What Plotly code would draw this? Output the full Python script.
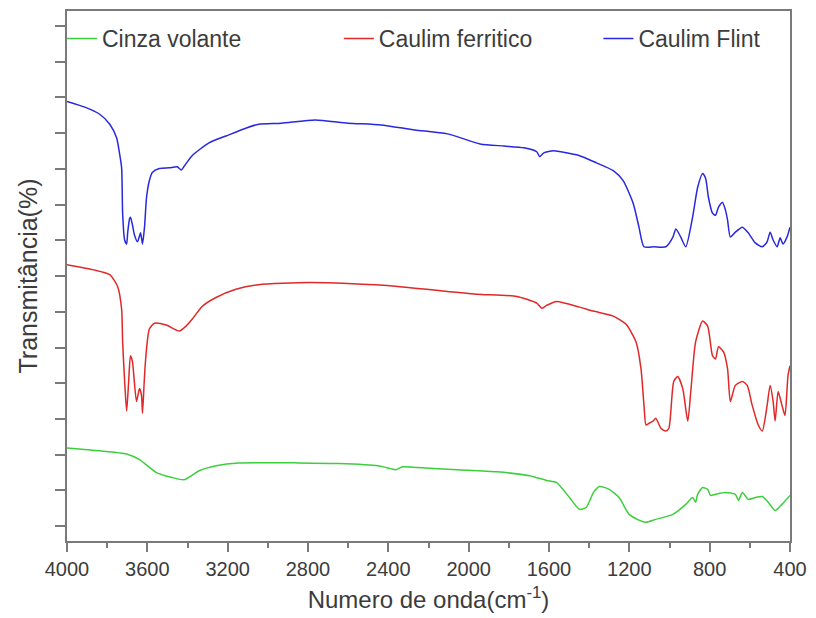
import plotly.graph_objects as go

# Caulim Flint (blue)
flint_wn = [4000, 3911, 3837, 3787, 3753, 3738, 3728, 3723, 3713, 3703, 3698, 3688, 3684, 3674, 3664,
            3649, 3639, 3634, 3629, 3624, 3614, 3604, 3590, 3575, 3540, 3491, 3451, 3431, 3416, 3377,
            3293, 3209, 3110, 3046, 2932, 2764, 2601, 2437, 2269, 2106, 1943, 1824, 1725, 1661, 1646,
            1626, 1577, 1513, 1448, 1364, 1280, 1231, 1181, 1152, 1127, 1077, 1018, 983, 968, 944,
            919, 885, 860, 835, 820, 806, 786, 771, 756, 736, 721, 711, 697, 672, 637,
            608, 573, 538, 514, 499, 484, 464, 449, 435, 415, 400]
flint_t = [128.9, 127.3, 125.3, 122.5, 118.7, 114.2, 110.3, 97.6, 90.1, 89.0, 92.1, 96.2, 96.5, 94.3, 91.5,
           89.6, 91.2, 92.1, 90.7, 89.0, 93.7, 102.0, 106.7, 109.0, 110.1, 110.3, 110.6, 109.7, 110.8, 113.7,
           117.3, 119.2, 121.4, 122.5, 122.8, 123.7, 122.8, 122.3, 120.9, 119.8, 117.0, 116.4, 115.9, 114.8, 113.4,
           114.5, 115.1, 114.5, 113.7, 111.7, 109.5, 106.7, 100.4, 93.7, 88.2, 88.2, 88.2, 90.9, 93.2, 90.9,
           88.2, 96.5, 104.8, 108.7, 107.3, 102.0, 97.6, 97.0, 99.3, 100.6, 98.4, 95.7, 90.9, 92.3, 93.7,
           92.1, 89.3, 88.2, 89.6, 92.3, 90.1, 88.2, 90.7, 89.0, 90.9, 93.7]

# Caulim ferritico (red)
ferr_wn = [4000, 3871, 3787, 3748, 3728, 3723, 3713, 3703, 3693, 3684, 3674, 3654, 3639, 3629, 3624,
           3614, 3604, 3590, 3565, 3506, 3441, 3407, 3377, 3327, 3258, 3159, 3046, 2798, 2601, 2353,
           2106, 1958, 1760, 1661, 1636, 1612, 1562, 1448, 1379, 1280, 1216, 1167, 1142, 1127, 1117,
           1102, 1082, 1068, 1043, 1018, 1003, 979, 959, 934, 909, 894, 870, 835, 810, 786,
           771, 756, 731, 711, 697, 672, 637, 613, 588, 558, 538, 514, 499, 484, 474,
           459, 440, 425, 410, 400]
ferr_t = [83.2, 81.8, 80.4, 77.1, 70.7, 61.6, 50.5, 42.2, 50.5, 57.7, 56.0, 44.9, 48.5, 46.6, 41.6,
          52.1, 59.6, 65.2, 66.8, 66.3, 64.6, 66.0, 67.9, 71.5, 74.0, 76.3, 77.6, 78.2, 77.9, 77.1,
          75.7, 74.9, 74.3, 72.4, 71.0, 71.8, 72.9, 71.3, 70.2, 68.8, 66.5, 61.6, 54.1, 43.8, 38.3,
          38.8, 39.4, 40.2, 37.4, 36.6, 37.4, 50.5, 51.9, 48.5, 39.4, 47.7, 61.6, 67.4, 66.0, 57.7,
          56.8, 60.2, 58.8, 54.1, 44.9, 49.4, 50.5, 49.4, 43.8, 38.3, 36.6, 43.8, 49.4, 44.9, 39.4,
          47.7, 43.8, 41.0, 52.1, 54.9]

# Cinza volante (green)
cinza_wn = [4000, 3837, 3703, 3639, 3555, 3476, 3416, 3342, 3258, 3145, 2848, 2650, 2452, 2388, 2363,
            2329, 2254, 2057, 1859, 1696, 1612, 1562, 1498, 1448, 1414, 1379, 1349, 1300, 1251, 1201,
            1152, 1117, 1068, 983, 919, 885, 870, 860, 835, 810, 796, 771, 721, 672, 657,
            637, 608, 573, 538, 509, 474, 440, 400]
cinza_t = [31.9, 31.1, 30.2, 28.6, 25.0, 23.6, 23.0, 25.5, 26.9, 27.7, 27.7, 27.5, 26.9, 26.1, 25.8,
           26.6, 26.4, 25.8, 25.2, 24.1, 22.8, 22.2, 18.0, 14.7, 15.3, 19.4, 21.1, 20.3, 18.0, 13.3,
           11.7, 11.1, 11.9, 13.3, 16.1, 18.0, 16.7, 18.9, 20.8, 20.3, 18.6, 18.9, 19.4, 18.9, 17.2,
           19.4, 17.5, 18.0, 18.3, 16.7, 14.4, 16.1, 18.6]

x_ticks = [4000, 3600, 3200, 2800, 2400, 2000, 1600, 1200, 800, 400]
y_ticks = [10, 20, 30, 40, 50, 60, 70, 80, 90, 100, 110, 120, 130, 140, 150]

FONT = "Liberation Sans, Arial, sans-serif"
TXT = "#3c3c3c"
AX = "#7a7a7a"

fig = go.Figure()
line_kw = dict(width=1.5, shape="spline", smoothing=0.6)
fig.add_trace(go.Scatter(x=cinza_wn, y=cinza_t, mode="lines", name="Cinza volante", showlegend=True,
                         line=dict(color="#3ccf3c", **line_kw), legend="legend"))
fig.add_trace(go.Scatter(x=ferr_wn, y=ferr_t, mode="lines", name="Caulim ferritico", showlegend=True,
                         line=dict(color="#e02828", **line_kw), legend="legend2"))
fig.add_trace(go.Scatter(x=flint_wn, y=flint_t, mode="lines", name="Caulim Flint", showlegend=True,
                         line=dict(color="#2828e0", **line_kw), legend="legend3"))

leg_common = dict(orientation="h", yanchor="middle", y=0.948, xanchor="left",
                  bgcolor="rgba(0,0,0,0)", font=dict(family=FONT, size=23, color=TXT),
                  itemwidth=30)
fig.update_layout(
    width=816, height=618,
    showlegend=True,
    margin=dict(l=67, r=21, t=9, b=74),
    paper_bgcolor="white", plot_bgcolor="white",
    legend=dict(x=-0.007, **leg_common),
    legend2=dict(x=0.376, **leg_common),
    legend3=dict(x=0.735, **leg_common),
    xaxis=dict(range=[4000, 400], tickvals=x_ticks, ticktext=[str(v) for v in x_ticks],
               ticks="outside", ticklen=9, tickwidth=2, tickcolor=AX,
               minor=dict(dtick=200, tick0=0, ticks="outside", ticklen=5, tickwidth=2, tickcolor=AX),
               showline=True, linecolor=AX, linewidth=2, mirror=True,
               showgrid=False, zeroline=False,
               tickfont=dict(family=FONT, size=20, color=TXT),
               title=dict(text="Numero de onda(cm<sup>-1</sup>)", standoff=12,
                          font=dict(family=FONT, size=24, color=TXT))),
    yaxis=dict(range=[5.84, 154.2], tickvals=y_ticks, showticklabels=False,
               ticks="outside", ticklen=10, tickwidth=2, tickcolor=AX,
               showline=True, linecolor=AX, linewidth=2, mirror=True,
               showgrid=False, zeroline=False,
               title=dict(text="Transmitância(%)", standoff=10,
                          font=dict(family=FONT, size=25, color=TXT))),
)

fig.write_html("out.html")
